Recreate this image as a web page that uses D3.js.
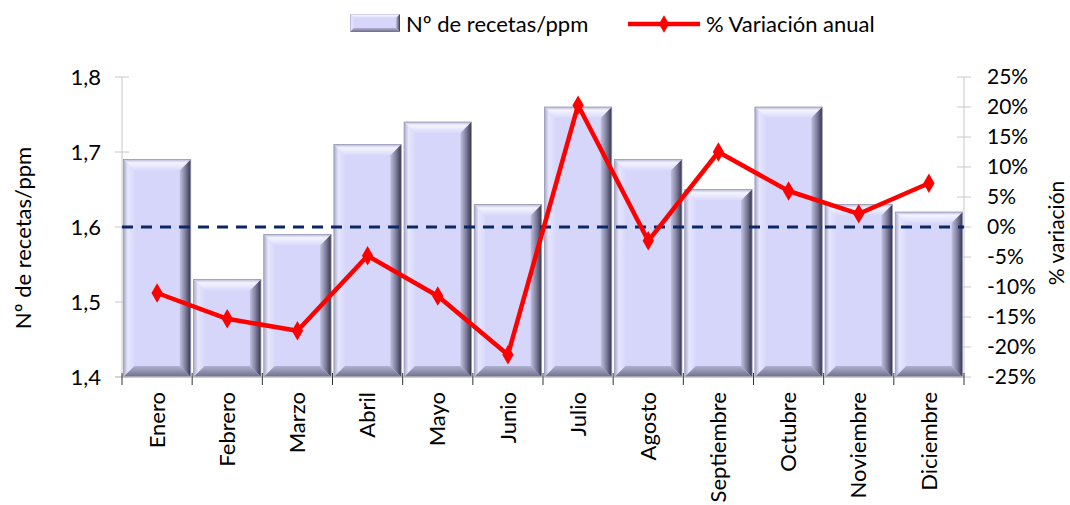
<!DOCTYPE html>
<html>
<head>
<meta charset="utf-8">
<script src="https://cdn.jsdelivr.net/npm/d3@7"></script>
<style>
  body { margin: 0; background: #fff; }
  text { font-family: Lato, "Open Sans", sans-serif; fill: #000; }
</style>
</head>
<body>
<svg width="1070" height="505"></svg>
<script>
var months = ["Enero", "Febrero", "Marzo", "Abril", "Mayo", "Junio", "Julio",
              "Agosto", "Septiembre", "Octubre", "Noviembre", "Diciembre"];
var recetas = [1.69, 1.53, 1.59, 1.71, 1.74, 1.63, 1.76, 1.69, 1.65, 1.76, 1.63, 1.62];
var variacion = [-11.0, -15.3, -17.3, -4.8, -11.5, -21.3, 20.3, -2.3, 12.5, 6.0, 2.2, 7.3];
var leftTicks = [1.4, 1.5, 1.6, 1.7, 1.8];
var rightTicks = [-25, -20, -15, -10, -5, 0, 5, 10, 15, 20, 25];
var refValue = 1.6;

var margin = { left: 122, right: 106, top: 77, bottom: 128 };
var width = 1070, height = 505;

var svg = d3.select("svg");

var defs = svg.append("defs");
function grad(id, x2, y2, stops) {
    var g = defs.append("linearGradient").attr("id", id)
        .attr("x1", 0).attr("y1", 0).attr("x2", x2).attr("y2", y2);
    stops.forEach(function(s) {
        g.append("stop").attr("offset", s[0]).attr("stop-color", s[1]);
    });
}
grad("gTop", 0, 1, [[0, "#b8b8d8"], [0.3, "#f4f4ff"], [1, "#d8d8fa"]]);
grad("gLeft", 1, 0, [[0, "#a8a8c8"], [0.4, "#e6e6ff"], [1, "#d8d8fa"]]);
grad("gRight", 1, 0, [[0, "#c0c0e0"], [0.55, "#7a7a98"], [1, "#34344a"]]);
grad("gBottom", 0, 1, [[0, "#b0b0d0"], [1, "#6e6e8a"]]);

var x = d3.scaleBand()
    .domain(months)
    .range([margin.left, width - margin.right])
    .paddingInner(0.04)
    .paddingOuter(0.02);

var y = d3.scaleLinear().domain([1.4, 1.8]).range([height - margin.bottom, margin.top]);
var y2 = d3.scaleLinear().domain([-25, 25]).range([height - margin.bottom, margin.top]);

var x0 = margin.left, x1 = width - margin.right;
var yb = height - margin.bottom;

// axes lines
svg.append("line").attr("x1", x0).attr("x2", x0).attr("y1", margin.top).attr("y2", yb)
    .attr("stroke", "#c8c8c8").attr("stroke-width", 1);
svg.append("line").attr("x1", x1).attr("x2", x1).attr("y1", margin.top).attr("y2", yb)
    .attr("stroke", "#c8c8c8").attr("stroke-width", 1);

svg.selectAll(".ltick").data(leftTicks).enter().append("line")
    .attr("x1", x0 - 7).attr("x2", x0 + 7)
    .attr("y1", function(d) { return y(d); }).attr("y2", function(d) { return y(d); })
    .attr("stroke", "#c8c8c8");
svg.selectAll(".rtick").data(rightTicks).enter().append("line")
    .attr("x1", x1 - 7).attr("x2", x1 + 7)
    .attr("y1", function(d) { return y2(d); }).attr("y2", function(d) { return y2(d); })
    .attr("stroke", "#c8c8c8");

svg.selectAll(".ltext").data(leftTicks).enter().append("text")
    .attr("x", x0 - 21).attr("y", function(d) { return y(d); })
    .attr("dy", "0.35em").attr("text-anchor", "end")
    .style("font-size", "22px")
    .text(function(d) { return d3.format(".1f")(d).replace(".", ","); });

svg.selectAll(".rtext").data(rightTicks).enter().append("text")
    .attr("x", x1 + 23).attr("y", function(d) { return y2(d); })
    .attr("dy", "0.35em").attr("text-anchor", "start")
    .style("font-size", "21px")
    .text(function(d) { return d + "%"; });

// bars with bevel
var b = 11;
var bars = svg.selectAll(".bar").data(months).enter().append("g").attr("class", "bar");
bars.each(function(m, i) {
    var g = d3.select(this);
    var bx = x(m), bw = x.bandwidth(), by = y(recetas[i]), bh = yb - by;
    var r = bx + bw, bt = yb;
    g.append("rect").attr("x", bx).attr("y", by).attr("width", bw).attr("height", bh)
        .attr("fill", "#d6d6fb");
    g.append("polygon").attr("points", [[bx, by], [r, by], [r - b, by + b], [bx + b, by + b]].join(" "))
        .attr("fill", "url(#gTop)");
    g.append("polygon").attr("points", [[bx, by], [bx + b, by + b], [bx + b, bt - b], [bx, bt]].join(" "))
        .attr("fill", "url(#gLeft)");
    g.append("polygon").attr("points", [[r, by], [r, bt], [r - b, bt - b], [r - b, by + b]].join(" "))
        .attr("fill", "url(#gRight)");
    g.append("polygon").attr("points", [[bx, bt], [bx + b, bt - b], [r - b, bt - b], [r, bt]].join(" "))
        .attr("fill", "url(#gBottom)");
    g.append("rect").attr("x", bx).attr("y", by).attr("width", bw).attr("height", bh)
        .attr("fill", "none").attr("stroke", "#9a9ab8").attr("stroke-width", 0.8);
});

// bottom axis
svg.append("line").attr("x1", x0 - 7).attr("x2", x1).attr("y1", yb).attr("y2", yb)
    .attr("stroke", "#c8c8c8");
var bounds = months.map(function(m) { return x(m) - x.step() * x.paddingInner() / 2; });
bounds.push(x1);
svg.selectAll(".xtick").data(bounds).enter().append("line")
    .attr("x1", function(d) { return d; }).attr("x2", function(d) { return d; })
    .attr("y1", yb - 4).attr("y2", yb + 8)
    .attr("stroke", "#333");

svg.selectAll(".xlabel").data(months).enter().append("text")
    .attr("transform", function(d) {
        return "translate(" + (x(d) + x.bandwidth() / 2) + "," + (yb + 15) + ") rotate(-90)";
    })
    .attr("text-anchor", "end").attr("dy", "0.35em")
    .style("font-size", "22px")
    .text(function(d) { return d; });

// reference dashed line
svg.append("line").attr("x1", x0).attr("x2", x1).attr("y1", y(refValue)).attr("y2", y(refValue))
    .attr("stroke", "#0b2766").attr("stroke-width", 3).attr("stroke-dasharray", "11,8");

// variation line
var line = d3.line()
    .x(function(d, i) { return x(months[i]) + x.bandwidth() / 2; })
    .y(function(d) { return y2(d); });
svg.append("path").datum(variacion).attr("d", line)
    .attr("fill", "none").attr("stroke", "#ff0000").attr("stroke-width", 4.5)
    .attr("stroke-linejoin", "round");
svg.selectAll(".pt").data(variacion).enter().append("path")
    .attr("d", d3.symbol().type(d3.symbolDiamond).size(110))
    .attr("transform", function(d, i) {
        return "translate(" + (x(months[i]) + x.bandwidth() / 2) + "," + y2(d) + ")";
    })
    .attr("fill", "#ff0000");

// axis titles
svg.append("text").attr("transform", "translate(23,238) rotate(-90)")
    .attr("text-anchor", "middle").attr("dy", "0.35em").style("font-size", "22px")
    .text("Nº de recetas/ppm");
svg.append("text").attr("transform", "translate(1057,233) rotate(-90)")
    .attr("text-anchor", "middle").attr("dy", "0.35em").style("font-size", "21px")
    .text("% variación");

// legend
var lg = svg.append("g");
var sw = lg.append("g");
var lx = 350, ly = 14, lw = 50, lh = 18, lb = 4;
sw.append("rect").attr("x", lx).attr("y", ly).attr("width", lw).attr("height", lh).attr("fill", "#d6d6fb");
sw.append("polygon").attr("points", [[lx, ly], [lx + lw, ly], [lx + lw - lb, ly + lb], [lx + lb, ly + lb]].join(" ")).attr("fill", "url(#gTop)");
sw.append("polygon").attr("points", [[lx, ly], [lx + lb, ly + lb], [lx + lb, ly + lh - lb], [lx, ly + lh]].join(" ")).attr("fill", "url(#gLeft)");
sw.append("polygon").attr("points", [[lx + lw, ly], [lx + lw, ly + lh], [lx + lw - lb, ly + lh - lb], [lx + lw - lb, ly + lb]].join(" ")).attr("fill", "url(#gRight)");
sw.append("polygon").attr("points", [[lx, ly + lh], [lx + lb, ly + lh - lb], [lx + lw - lb, ly + lh - lb], [lx + lw, ly + lh]].join(" ")).attr("fill", "url(#gBottom)");
lg.append("text").attr("x", 406).attr("y", 24).attr("dy", "0.35em").style("font-size", "22px")
    .text("Nº de recetas/ppm");
lg.append("line").attr("x1", 628).attr("x2", 700).attr("y1", 24).attr("y2", 24)
    .attr("stroke", "#ff0000").attr("stroke-width", 4.5);
lg.append("path").attr("d", d3.symbol().type(d3.symbolDiamond).size(90))
    .attr("transform", "translate(664,24)").attr("fill", "#ff0000");
lg.append("text").attr("x", 706).attr("y", 24).attr("dy", "0.35em").style("font-size", "22px")
    .text("% Variación anual");
</script>
</body>
</html>
